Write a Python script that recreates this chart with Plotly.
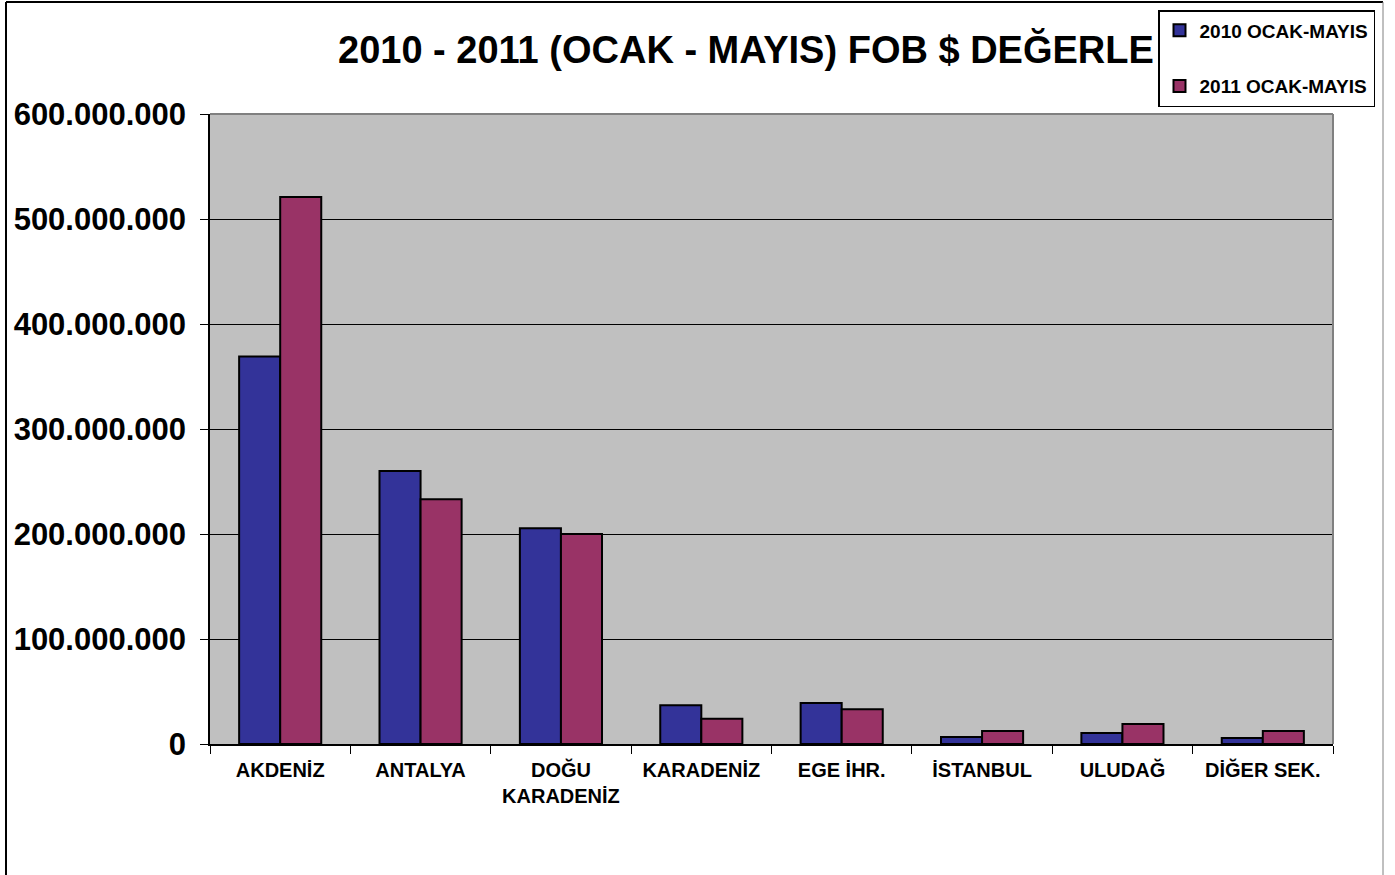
import plotly.graph_objects as go

categories = ["AKDENİZ", "ANTALYA", "DOĞU<br>KARADENİZ", "KARADENİZ", "EGE İHR.", "İSTANBUL", "ULUDAĞ", "DİĞER SEK."]
values_2010 = [369000000, 260000000, 205500000, 37000000, 39000000, 6700000, 10500000, 5700000]
values_2011 = [521000000, 233000000, 200000000, 24000000, 33000000, 12400000, 19000000, 12400000]
series_names = ["2010 OCAK-MAYIS", "2011 OCAK-MAYIS"]
title_text = "2010 - 2011 (OCAK - MAYIS) FOB $ DEĞERLE"
y_ticks = [0, 100000000, 200000000, 300000000, 400000000, 500000000, 600000000]

FONT = "Arial, Liberation Sans, sans-serif"
W, H = 1395, 875
L, R, T, B = 210, 62, 114, 131
pw, ph = W - L - R, H - T - B

def px_x(p):
    return (p - L) / pw

def px_y(p):
    return (H - B - p) / ph

fig = go.Figure()
fig.add_trace(go.Bar(x=categories, y=values_2010, name=series_names[0], legendgroup="a",
                     marker=dict(color="#333399", line=dict(color="black", width=2))))
fig.add_trace(go.Bar(x=categories, y=values_2011, name=series_names[1], legendgroup="b",
                     marker=dict(color="#993366", line=dict(color="black", width=2))))

shapes = [
    dict(type="line", xref="paper", yref="paper", x0=0, x1=1, y0=1, y1=1, line=dict(color="#808080", width=2)),
    dict(type="line", xref="paper", yref="paper", x0=1, x1=1, y0=0, y1=1, line=dict(color="#808080", width=2)),
    dict(type="line", xref="paper", yref="paper", x0=px_x(6), x1=px_x(6), y0=px_y(2), y1=px_y(880), line=dict(color="black", width=2)),
    dict(type="line", xref="paper", yref="paper", x0=px_x(6), x1=px_x(1383), y0=px_y(2), y1=px_y(2), line=dict(color="black", width=2)),
    dict(type="line", xref="paper", yref="paper", x0=px_x(1383), x1=px_x(1383), y0=px_y(2), y1=px_y(880), line=dict(color="#808080", width=1)),
]

fig.update_layout(
    width=W, height=H,
    margin=dict(l=L, r=R, t=T, b=B, autoexpand=False),
    paper_bgcolor="white",
    plot_bgcolor="#C0C0C0",
    separators=",.",
    font=dict(family=FONT, color="black", weight="bold"),
    barmode="group",
    bargap=0.415,
    bargroupgap=0,
    title=dict(text=title_text, x=338 / W, xanchor="left", xref="container",
               y=1 - 50 / H, yanchor="middle", yref="container",
               font=dict(family=FONT, size=38, color="black", weight="bold")),
    legend=dict(x=1158 / W, xref="container", y=1 - 10 / H, yref="container",
                xanchor="left", yanchor="top",
                bgcolor="white", bordercolor="black", borderwidth=1.5,
                font=dict(family=FONT, size=19, color="black", weight="bold"),
                tracegroupgap=28, itemwidth=30),
    xaxis=dict(showline=True, linecolor="black", linewidth=1.5,
               ticks="outside", ticklen=8, tickcolor="black", tickson="boundaries",
               ticklabelstandoff=7,
               tickfont=dict(family=FONT, size=20, color="black", weight="bold"),
               showgrid=False),
    yaxis=dict(range=[0, 600000000], tickvals=y_ticks, tickformat=",d",
               showline=True, linecolor="black", linewidth=1.5,
               ticks="outside", ticklen=8, tickcolor="black",
               ticklabelstandoff=8,
               tickfont=dict(family=FONT, size=31, color="black", weight="bold"),
               showgrid=True, gridcolor="black", gridwidth=1, zeroline=False),
    shapes=shapes,
)

fig.write_html("out.html", config={"displayModeBar": False},
               post_script="document.body.style.margin='0';")
